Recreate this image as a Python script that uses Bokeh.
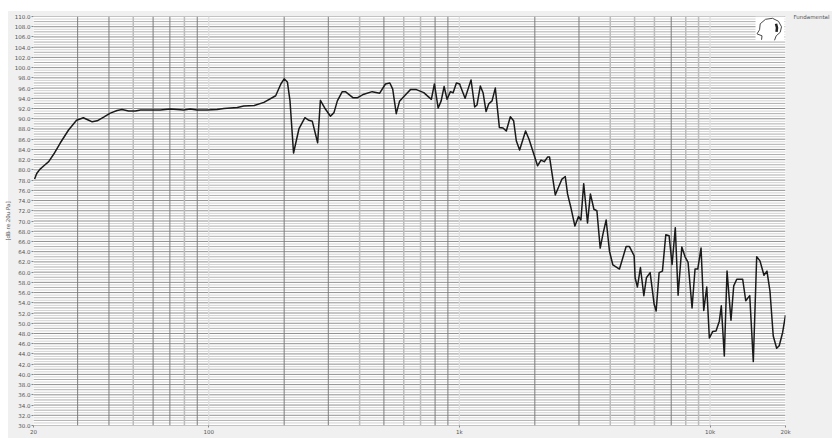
from bokeh.plotting import figure
from bokeh.embed import file_html
from bokeh.resources import INLINE
from bokeh.models import FixedTicker, LinearAxis, Range1d, ColumnDataSource, Span, CustomJSTickFormatter, BoxAnnotation

freq = [20.2,20.6,21.2,22.0,23.0,24.1,25.6,27.6,29.7,31.6,32.9,34.3,35.9,38.1,40.5,43.1,45.1,47.9,51.0,53.4,64.1,70.3,79.4,84.4,89.8,98.4,
108,115,130,138,152,166,185,194,200,206,211,218,229,242,251,259,272,279,292,306,316,326,341,351,377,391,416,449,481,507,528,542,560,577,610,638,674,721,773,795,823,846,869,893,921,944,973,1003,
1009,1054,1113,1151,1176,1212,1243,1278,1309,1350,1391,1444,1493,1539,1597,1646,1687,1739,1837,1896,2051,2116,2181,2248,2290,2413,2566,2645,2701,2786,2890,2987,3054,3133,3245,3332,3441,3537,3646,3737,3851,3970,4096,4352,4627,4770,4980,5025,5132,5276,5444,5575,5768,5984,6095,6264,6457,6660,6866,7057,7267,7456,7717,7950,8172,8477,8713,8933,9207,9438,9703,9936,
10250,10566,10890,11090,11400,11690,12120,12430,12780,13500,13880,14400,14880,15350,15820,16410,16870,17340,17870,18440,18880,19480,20000]
level = [78.2,79.3,80.1,80.8,81.6,83.1,85.3,87.8,89.7,90.2,89.8,89.4,89.6,90.3,91.1,91.6,91.8,91.5,91.5,91.7,91.7,91.9,91.7,91.9,91.7,91.7,
91.8,92.0,92.2,92.5,92.6,93.2,94.5,96.8,97.8,97.2,93.5,83.3,88.0,90.2,89.7,89.5,85.3,93.6,91.9,90.5,91.2,93.5,95.3,95.3,94.1,94.1,94.8,95.3,95.0,96.8,97.0,95.8,91.0,93.4,94.7,95.7,95.7,95.1,93.8,96.8,92.1,93.5,96.3,93.8,95.3,95.1,97.0,96.8,
96.4,94.0,97.6,92.3,92.7,96.4,95.1,91.4,92.9,93.5,96.0,88.3,88.2,87.6,90.4,89.6,85.7,83.9,87.6,86.0,80.8,81.9,81.6,82.5,82.5,75.1,78.2,78.7,75.3,72.6,69.0,70.9,70.2,77.3,69.6,75.3,72.3,72.0,64.7,67.4,70.2,64.1,61.4,60.6,65.0,65.0,63.2,58.9,57.1,60.9,55.4,58.9,59.9,53.7,52.4,59.9,60.2,67.3,67.1,61.5,68.7,55.5,64.9,63.0,61.9,53.0,60.6,60.6,64.7,52.5,57.1,47.1,
48.4,48.5,50.4,53.4,43.6,60.2,50.6,57.3,58.6,58.6,54.4,55.4,42.5,63.0,62.2,59.4,60.2,56.3,47.5,45.1,45.6,48.2,51.6]

y_major = list(range(30, 112, 2))
y_one = [v + 1 for v in range(30, 110, 2)]
y_half = [v + 0.5 for v in range(30, 110)]
x_dark = [30, 40, 60, 70, 90, 200, 300, 500, 800, 900, 2000, 3000, 7000]
x_mid = [50, 80, 400, 600, 700, 4000, 5000, 6000, 8000, 9000]
x_light = [100, 1000, 10000]
x_ticks = [20, 100, 1000, 10000, 20000]
x_labels = {20: "20", 100: "100", 1000: "1k", 10000: "10k", 20000: "20k"}
y_title = "[dB re 20u Pa]"
legend_name = "Fundamental"

TXT = "#555555"
p = figure(width=832, height=427, x_axis_type="log", output_backend="svg", toolbar_location=None,
           x_range=Range1d(20, 20000), y_range=Range1d(30, 110),
           background_fill_color="#ffffff", border_fill_color=None,
           min_border_left=33, min_border_right=47, min_border_top=5, min_border_bottom=13)
p.styles = {"margin-top": "11px",
            "background": "linear-gradient(to right, #ffffff 8px, #f0f0f0 8px)"}
p.xgrid.visible = False
p.ygrid.visible = False
p.outline_line_color = None

for v in y_half:
    p.add_layout(Span(location=v, dimension="width", line_color="#c6c6c6", line_width=0.8, level="underlay"))
for v in y_one:
    p.add_layout(Span(location=v, dimension="width", line_color="#a4a4a4", line_width=0.9, level="underlay"))
for v in y_major:
    p.add_layout(Span(location=v, dimension="width", line_color="#8e8e8e", line_width=1, level="underlay"))
for v in x_dark:
    p.add_layout(Span(location=v, dimension="height", line_color="#7d7d7d", line_width=1, level="underlay"))
for v in x_mid:
    p.add_layout(Span(location=v, dimension="height", line_color="#bdbdbd", line_width=1.5, level="underlay"))
for v in x_light:
    p.add_layout(Span(location=v, dimension="height", line_color="#dedede", line_width=1.3, level="underlay"))

src = ColumnDataSource(dict(freq=freq, level=level))
p.line("freq", "level", source=src, line_color="#1a1a1a", line_width=1.5, line_join="round")

p.yaxis.ticker = FixedTicker(ticks=y_major)
p.yaxis.formatter = CustomJSTickFormatter(code="return tick.toFixed(1)")
p.yaxis.major_label_text_font = "DejaVu Sans"
p.yaxis.major_label_text_font_size = "5.5px"
p.yaxis.major_label_text_color = TXT
p.yaxis.major_label_standoff = 1
p.yaxis.major_tick_in = 0
p.yaxis.major_tick_out = 2
p.yaxis.major_tick_line_color = "#888888"
p.yaxis.minor_tick_line_color = None
p.yaxis.axis_line_color = None
p.yaxis.axis_label = y_title
p.yaxis.axis_label_text_font = "DejaVu Sans"
p.yaxis.axis_label_text_font_size = "5.5px"
p.yaxis.axis_label_text_font_style = "normal"
p.yaxis.axis_label_text_color = TXT
p.yaxis.axis_label_standoff = 1

p.xaxis.ticker = FixedTicker(ticks=x_ticks)
p.xaxis.major_label_overrides = x_labels
p.xaxis.major_label_text_font = "DejaVu Sans"
p.xaxis.major_label_text_font_size = "5.5px"
p.xaxis.major_label_text_color = TXT
p.xaxis.major_label_standoff = 1
p.xaxis.major_tick_in = 0
p.xaxis.major_tick_out = 2
p.xaxis.major_tick_line_color = "#888888"
p.xaxis.minor_tick_line_color = None
p.xaxis.axis_line_color = None

legend_axis = LinearAxis(ticker=FixedTicker(ticks=[110]), major_label_overrides={110: legend_name},
                         major_label_standoff=8, major_tick_out=0, major_tick_in=0,
                         major_label_text_font="DejaVu Sans",
                         major_label_text_font_size="5.5px", major_label_text_color=TXT,
                         major_tick_line_color=None, minor_tick_line_color=None, axis_line_color=None)
p.add_layout(legend_axis, "right")

# helpers: page pixels to data values, for the decoration only
def fx(px):
    return 20 * 10 ** ((px - 33) / 251)
def fy(py):
    return 110 - (py - 15.7) / 5.11

# head icon in the top right corner of the plot
p.add_layout(BoxAnnotation(left=fx(756), right=fx(785), top=fy(15.7), bottom=fy(39.5),
                           fill_color="#ffffff", fill_alpha=1, line_color=None, level="underlay"))
head_x = [762, 762.5, 758.5, 757.5, 760, 760.7, 766, 773, 779, 782, 780.7, 776.7, 775]
head_y = [39, 35, 33.5, 33, 29, 23, 18.5, 17.5, 20.5, 26, 31.5, 35, 39.5]
p.line([fx(v) for v in head_x], [fy(v) for v in head_y], line_color="#333333", line_width=0.9)
p.line([fx(776.5), fx(777.5), fx(777)], [fy(23), fy(27), fy(31)], line_color="#222222", line_width=2.5)

open("out.html", "w").write(file_html(p, INLINE))
